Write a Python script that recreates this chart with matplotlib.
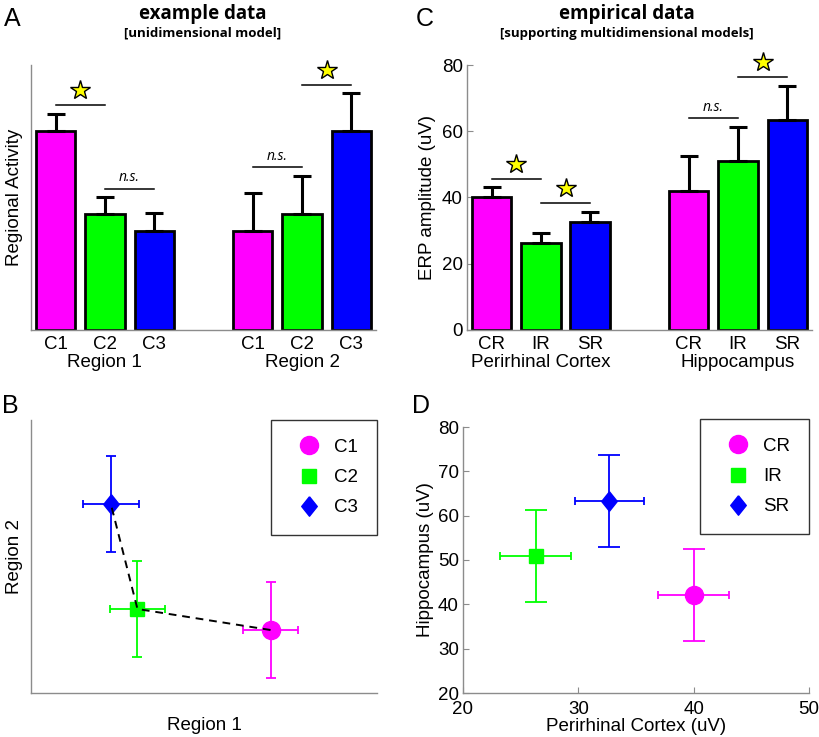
import numpy as np
import matplotlib
matplotlib.use("Agg")
import matplotlib.pyplot as plt

plt.rcParams['font.family'] = ['Liberation Sans', 'DejaVu Sans']

# ---- data ----
cond_a = ['C1', 'C2', 'C3']
region_names = ['Region 1', 'Region 2']
region1_act = [60, 35, 30]
region1_err = [5.2, 5.2, 5.2]
region2_act = [30, 35, 60]
region2_err = [11.5, 11.5, 11.5]

cond_c = ['CR', 'IR', 'SR']
area_names = ['Perirhinal Cortex', 'Hippocampus']
prc_amp = [40.0, 26.3, 32.7]
prc_err = [3.1, 3.1, 3.0]
hc_amp = [42.1, 50.9, 63.3]
hc_err = [10.4, 10.4, 10.4]

# significance marks: (from bar, to bar, height, kind)
sig_a = [(1, 2, 67.9, 'star'), (2, 3, 42.6, 'n.s.'), (5, 6, 49.2, 'n.s.'), (6, 7, 74.0, 'star')]
sig_c = [(1, 2, 45.5, 'star'), (2, 3, 38.4, 'star'), (5, 6, 64.0, 'n.s.'), (6, 7, 76.4, 'star')]

colors = ['#ff00ff', '#00ff00', '#0000ff']
gray = '#8c8c8c'
diamond = [(0, 1), (0.8, 0), (0, -1), (-0.8, 0), (0, 1)]
FS = 13.5

W, H = 820, 737
fig = plt.figure(figsize=(W / 100, H / 100), dpi=100)


def px_axes(l, t, r, b):
    return fig.add_axes([l / W, 1 - b / H, (r - l) / W, (b - t) / H])


def clean(ax):
    for s in ['top', 'right']:
        ax.spines[s].set_visible(False)
    for s in ['left', 'bottom']:
        ax.spines[s].set_color(gray)
        ax.spines[s].set_linewidth(1)


def bar_panel(ax, vals1, err1, vals2, err2, names, groups, sigs, ylabel):
    pos1, pos2 = [1, 2, 3], [5, 6, 7]
    for pos, v, e in [(pos1, vals1, err1), (pos2, vals2, err2)]:
        ax.bar(pos, v, width=0.8, color=colors, edgecolor='k', linewidth=2, zorder=2)
        ax.errorbar(pos, v, yerr=[np.zeros(3), e], fmt='none', ecolor='k',
                    elinewidth=2.2, capsize=6.5, capthick=2.2, zorder=3)
    ax.set_xlim(0.5, 7.5)
    ax.set_ylim(0, 80)
    clean(ax)
    ax.set_xticks(pos1 + pos2, names * 2)
    ax.tick_params(axis='x', length=0, pad=4, labelsize=FS)
    for p, g in zip([2, 6], groups):
        ax.text(p, -0.124, g, transform=ax.get_xaxis_transform(), ha='center',
                va='center', size=FS)
    for x0, x1, y, kind in sigs:
        ax.plot([x0, x1], [y, y], color='k', lw=1.1)
        mid = (x0 + x1) / 2
        if kind == 'star':
            ax.plot(mid, y + 4.6, marker='*', ms=15, mfc='#ffff00', mec='k',
                    mew=1, clip_on=False, zorder=5)
        else:
            ax.text(mid, y + 3.3, 'n.s.', style='italic', family='Open Sans',
                    ha='center', va='center', size=10)
    ax.set_ylabel(ylabel, size=FS)


def scatter_panel(ax, xs, ys, xerr, yerr, labels, vcap, hcap):
    marks = ['o', 's', diamond]
    sizes = [13, 10, 14]
    handles = []
    for i in range(3):
        ax.errorbar(xs[i], ys[i], yerr=yerr[i], fmt='none', ecolor=colors[i],
                    elinewidth=1.3, capsize=vcap, capthick=1.3, zorder=2)
        ax.errorbar(xs[i], ys[i], xerr=xerr[i], fmt='none', ecolor=colors[i],
                    elinewidth=1.3, capsize=hcap, capthick=1.3, zorder=2)
        h, = ax.plot(xs[i], ys[i], marker=marks[i], ms=sizes[i], color=colors[i],
                     ls='none', label=labels[i], zorder=3)
        handles.append(h)
    clean(ax)
    return handles


def add_legend(ax, handles, top_offset=0.0):
    leg = ax.legend(handles=handles, loc='upper right', bbox_to_anchor=(1, 1 + top_offset),
                    borderaxespad=0, frameon=True, fancybox=False, framealpha=1,
                    edgecolor='#333333', borderpad=1.0, handlelength=2.0,
                    handletextpad=0.35, labelspacing=0.7, fontsize=FS)
    leg.get_frame().set_linewidth(1)


# ---- A ----
axA = px_axes(31, 65, 376, 330)
bar_panel(axA, region1_act, region1_err, region2_act, region2_err, cond_a,
          region_names, sig_a, 'Regional Activity')
axA.set_yticks([])
axA.yaxis.labelpad = 6

# ---- C ----
axC = px_axes(467, 65, 812, 330)
bar_panel(axC, prc_amp, prc_err, hc_amp, hc_err, cond_c, area_names, sig_c,
          'ERP amplitude (uV)')
axC.set_yticks([0, 20, 40, 60, 80])
axC.tick_params(axis='y', direction='in', length=4, color=gray, labelsize=FS, pad=3)

# ---- B ----
axB = px_axes(31, 420, 377, 693)
hB = scatter_panel(axB, region1_act, region2_act, region1_err, region2_err,
                   cond_a, vcap=3.6, hcap=3)
axB.plot(region1_act, region2_act, color='k', ls=(0, (4, 3)), lw=1.4, zorder=4)
axB.set_xlim(15, 80)
axB.set_ylim(15, 80)
axB.set_xticks([])
axB.set_yticks([])
axB.set_xlabel('Region 1', size=FS, labelpad=17)
axB.set_ylabel('Region 2', size=FS, labelpad=6)
add_legend(axB, hB)

# ---- D ----
axD = px_axes(463, 427, 809, 693)
hD = scatter_panel(axD, prc_amp, hc_amp, prc_err, hc_err, cond_c, vcap=8, hcap=3)
axD.set_xlim(20, 50)
axD.set_ylim(20, 80)
axD.set_xticks([20, 30, 40, 50])
axD.set_yticks([20, 30, 40, 50, 60, 70, 80])
axD.tick_params(direction='in', length=4, color=gray, labelsize=FS, pad=3)
axD.tick_params(axis='x', pad=6)
axD.set_xlabel('Perirhinal Cortex (uV)', size=FS, labelpad=0)
axD.set_ylabel('Hippocampus (uV)', size=FS, labelpad=3)
add_legend(axD, hD, top_offset=8 / 266)

# ---- titles and panel letters ----
fig.text(203 / W, 1 - 14 / H, 'example data', family='Open Sans', weight='bold',
         size=13.5, ha='center', va='center')
fig.text(203 / W, 1 - 33 / H, '[unidimensional model]', family='Open Sans',
         weight='bold', size=9.5, ha='center', va='center')
fig.text(627 / W, 1 - 14 / H, 'empirical data', family='Open Sans', weight='bold',
         size=13.5, ha='center', va='center')
fig.text(627 / W, 1 - 33 / H, '[supporting multidimensional models]', family='Open Sans',
         weight='bold', size=9.5, ha='center', va='center')
for letter, x, y in [('A', 12, 19), ('C', 425, 19), ('B', 10, 406), ('D', 421, 406)]:
    fig.text(x / W, 1 - y / H, letter, size=18, ha='center', va='center')

fig.savefig('out.png', dpi=100)
